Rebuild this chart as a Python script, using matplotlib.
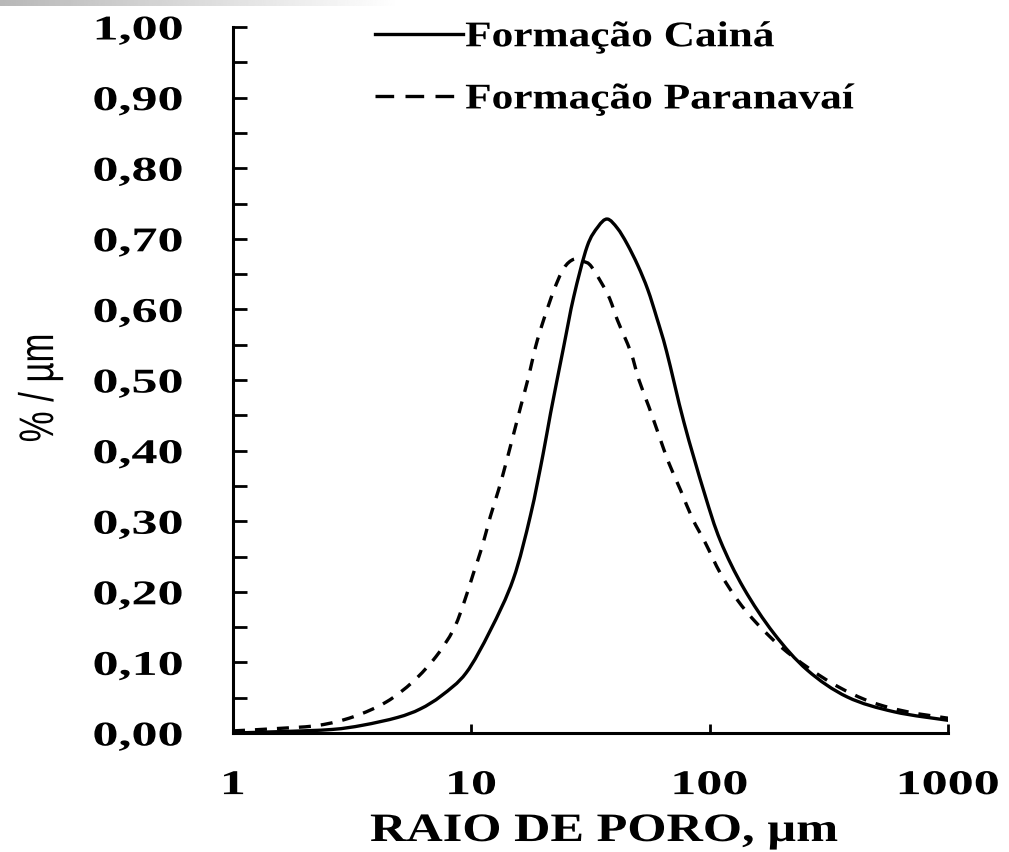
import numpy as np
import matplotlib
matplotlib.use("Agg")
import matplotlib.pyplot as plt
from matplotlib import patheffects
from matplotlib.transforms import Affine2D
from matplotlib.ticker import FixedLocator, MultipleLocator, FuncFormatter
from matplotlib.lines import Line2D
from matplotlib.path import Path
from matplotlib.patches import PathPatch

# Pore-size distribution curves (pore radius in µm vs. %/µm)
raio_caina = [1.0, 1.6, 2.6, 3.5, 4.9, 6.1, 7.5, 9.5, 12.0, 15.0, 17.7, 20.0,
              21.5, 24.4, 26.9, 30.6, 34.0, 37.2, 41.0, 45.0, 50.0, 55.0, 60.0,
              66.0, 78.0, 95.0, 111.0, 139.0, 186.0, 257.0, 378.0, 595.0, 1000.0]
dist_caina = [0.000, 0.002, 0.005, 0.011, 0.022, 0.034, 0.053, 0.085, 0.145,
              0.218, 0.308, 0.395, 0.453, 0.547, 0.618, 0.689, 0.717, 0.728,
              0.715, 0.693, 0.662, 0.628, 0.588, 0.540, 0.440, 0.340, 0.272,
              0.205, 0.141, 0.089, 0.051, 0.030, 0.018]

raio_paranavai = [1.0, 1.58, 2.3, 3.2, 4.4, 5.7, 7.1, 8.4, 9.3, 10.2, 11.1, 12.0,
                  13.0, 14.1, 16.1, 17.4, 18.6, 20.1, 22.2, 24.4, 26.9, 29.5,
                  32.0, 37.5, 41.0, 46.6, 50.5, 55.6, 61.2, 67.5, 75.5, 84.6,
                  96.0, 111.0, 131.0, 158.0, 199.0, 260.0, 344.0, 475.0, 677.0,
                  1000.0]
dist_paranavai = [0.003, 0.0066, 0.011, 0.023, 0.044, 0.073, 0.108, 0.146, 0.184,
                  0.226, 0.264, 0.306, 0.344, 0.387, 0.462, 0.505, 0.547, 0.585,
                  0.627, 0.658, 0.671, 0.668, 0.660, 0.620, 0.585, 0.540, 0.500,
                  0.462, 0.422, 0.382, 0.344, 0.304, 0.269, 0.226, 0.188, 0.155,
                  0.122, 0.092, 0.066, 0.044, 0.030, 0.021]

series_labels = ["Formação Cainá", "Formação Paranavaí"]
x_ticks = [1, 10, 100, 1000]
x_tick_labels = ["1", "10", "100", "1000"]
x_label = "RAIO DE PORO, µm"
y_label = "% / µm"


class WideText(patheffects.AbstractPathEffect):
    """Draw glyphs widened horizontally about an anchor fraction of the ink box."""

    def __init__(self, sx, anchor=0.5):
        super().__init__()
        self._sx = sx
        self._anchor = anchor

    def draw_path(self, renderer, gc, tpath, affine, rgbFace=None):
        bb = tpath.get_extents(affine)
        x0 = bb.x0 + self._anchor * bb.width
        wide = affine + Affine2D().translate(-x0, 0).scale(self._sx, 1).translate(x0, 0)
        renderer.draw_path(gc, tpath, wide, rgbFace)


def smooth_path(xs, ys):
    """Smoothed-line path (cubic Bezier through every data point, log-x space)."""
    pts = np.column_stack([np.log10(xs), np.asarray(ys, dtype=float)])
    n = len(pts)
    verts = [pts[0]]
    codes = [Path.MOVETO]
    for i in range(n - 1):
        p0 = pts[i - 1] if i > 0 else pts[i]
        p1, p2 = pts[i], pts[i + 1]
        p3 = pts[i + 2] if i + 2 < n else pts[i + 1]
        verts += [p1 + (p2 - p0) / 6.0, p2 - (p3 - p1) / 6.0, p2]
        codes += [Path.CURVE4] * 3
    verts = np.array(verts)
    verts[:, 0] = 10.0 ** verts[:, 0]
    return Path(verts, codes)


W, H = 1009, 852
fig = plt.figure(figsize=(W / 100, H / 100), dpi=100)
fig.patch.set_facecolor("white")

# faint grey strip at the top-left edge
strip = fig.add_axes([0, 1 - 6 / H, 400 / W, 6 / H])
grad = np.linspace(0.72, 1.0, 256)[None, :]
strip.imshow(grad, cmap="gray", vmin=0, vmax=1, aspect="auto")
strip.axis("off")

ax = fig.add_axes([233 / W, 1 - 733 / H, (948 - 233) / W, (733 - 27) / H])
ax.set_xscale("log")

lw = 2.4
dash = (0, (3.6, 3.0))
ax.add_patch(PathPatch(smooth_path(raio_caina, dist_caina), fill=False,
                       edgecolor="black", lw=lw, capstyle="round", joinstyle="round"))
ax.add_patch(PathPatch(smooth_path(raio_paranavai, dist_paranavai), fill=False,
                       edgecolor="black", lw=lw, linestyle=dash, capstyle="butt"))

ax.set_xlim(1, 1000)
ax.set_ylim(0, 1.0)

for s in ["top", "right"]:
    ax.spines[s].set_visible(False)
for s in ["left", "bottom"]:
    ax.spines[s].set_linewidth(2.2)

serif = "Liberation Serif"
ax.xaxis.set_major_locator(FixedLocator(x_ticks))
ax.xaxis.set_minor_locator(FixedLocator([]))
ax.set_xticks(x_ticks)
ax.set_xticklabels(x_tick_labels)
ax.yaxis.set_major_locator(MultipleLocator(0.1))
ax.yaxis.set_minor_locator(MultipleLocator(0.05))
ax.yaxis.set_major_formatter(FuncFormatter(lambda v, p: f"{v:.2f}".replace(".", ",")))

ax.tick_params(axis="y", which="both", direction="in", length=10, width=2.0, pad=36)
ax.tick_params(axis="x", which="major", direction="in", length=6.5, width=2.0, pad=26)
ax.tick_params(axis="x", which="minor", length=0)
for lab in ax.get_xticklabels() + ax.get_yticklabels():
    lab.set_fontfamily(serif)
    lab.set_fontweight("bold")
    lab.set_fontsize(25)

handles = [Line2D([], [], color="black", lw=lw),
           Line2D([], [], color="black", lw=lw, linestyle=(0, (5.6, 3.4)))]
leg = ax.legend(handles, series_labels, loc="upper left",
                bbox_to_anchor=(375 / W, 1 - 21 / H), bbox_transform=fig.transFigure,
                frameon=False, borderpad=0, borderaxespad=0, handlelength=2.45,
                handletextpad=0.05, labelspacing=0.8,
                prop={"family": serif, "weight": "bold", "size": 26})

xl = fig.text(604 / W, 1 - 841 / H, x_label, ha="center", va="baseline",
              family=serif, weight="bold", size=29)
yl = fig.text(40 / W, 1 - 388 / H, y_label, rotation=90, ha="center", va="center",
              family="Liberation Sans", size=25)

fig.canvas.draw()
for lab in ax.get_yticklabels():
    lab.set_path_effects([WideText(1.5, anchor=1.0)])
for lab in ax.get_xticklabels():
    lab.set_path_effects([WideText(1.5, anchor=0.5)])
for t in leg.get_texts():
    t.set_path_effects([WideText(1.2, anchor=0.0)])
xl.set_path_effects([WideText(1.25, anchor=0.5)])
yl.set_path_effects([WideText(1.4, anchor=0.5)])

fig.savefig("out.png", dpi=100, facecolor="white")
